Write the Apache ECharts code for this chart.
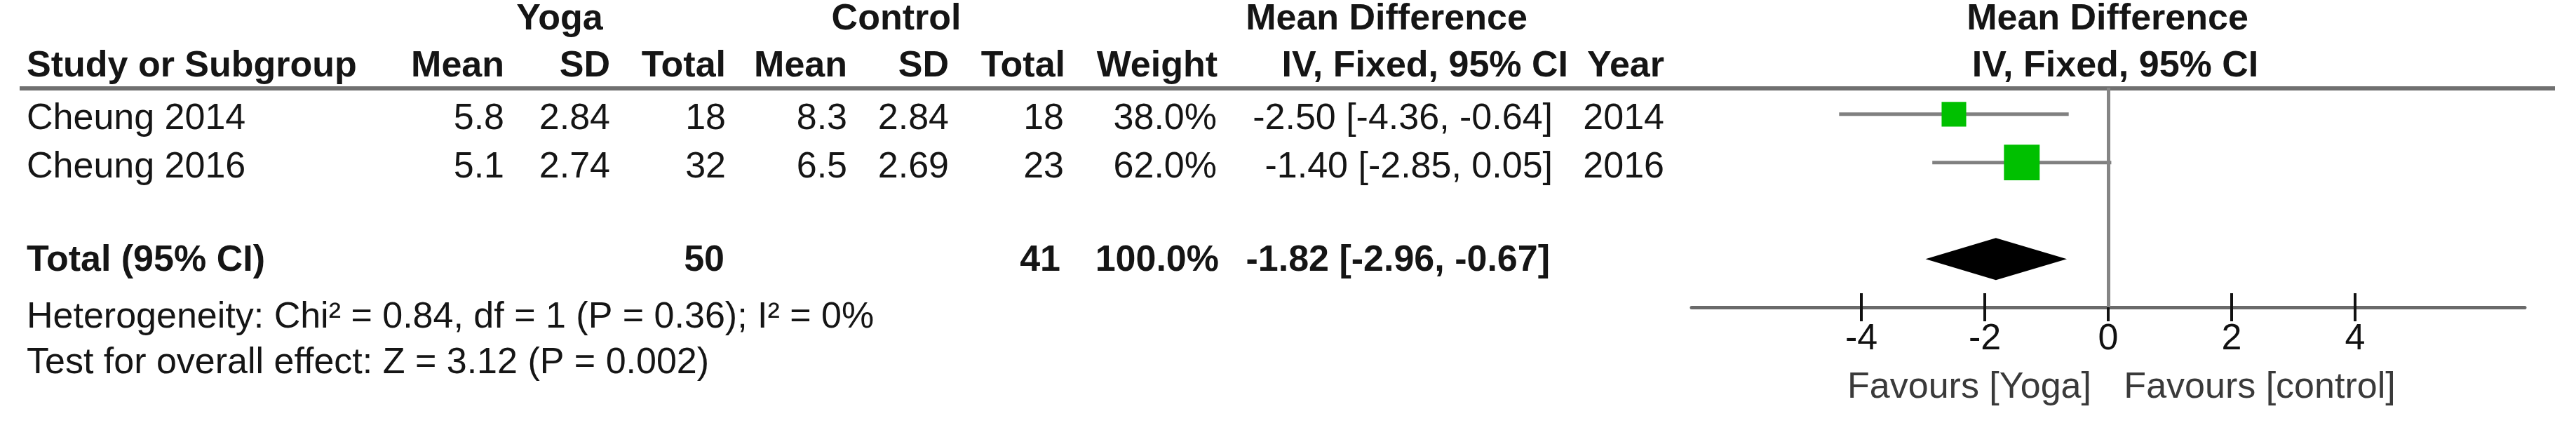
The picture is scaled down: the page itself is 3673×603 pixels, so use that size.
<!DOCTYPE html>
<html>
<head>
<meta charset="utf-8">
<title>Forest plot - Yoga vs Control</title>
<script src="https://cdn.jsdelivr.net/npm/echarts@6.0.0/dist/echarts.min.js"></script>
<style>
  html, body { margin: 0; padding: 0; background: #fff; }
  #forestChart { width: 3673px; height: 603px; }
</style>
</head>
<body>
<div id="forestChart"></div>
<script>
// study data
const studies = ['Cheung 2014', 'Cheung 2016'];
const yogaMean = [5.8, 5.1];
const yogaSD = [2.84, 2.74];
const yogaN = [18, 32];
const ctrlMean = [8.3, 6.5];
const ctrlSD = [2.84, 2.69];
const ctrlN = [18, 23];
const weights = [38.0, 62.0];
const md = [-2.50, -1.40];
const mdLow = [-4.36, -2.85];
const mdHigh = [-0.64, 0.05];
const years = [2014, 2016];

// pooled result
const totalYogaN = 50;
const totalCtrlN = 41;
const totalWeight = 100.0;
const totalMd = -1.82;
const totalLow = -2.96;
const totalHigh = -0.67;

const tickValues = [-4, -2, 0, 2, 4];
const heterogeneityText = 'Heterogeneity: Chi² = 0.84, df = 1 (P = 0.36); I² = 0%';
const overallText = 'Test for overall effect: Z = 3.12 (P = 0.002)';

const totalRow = 3;   // blank row between studies and total
const FONT = '"Liberation Sans", Arial, sans-serif';

function txt(str, x, y, align, bold, color) {
  return {
    type: 'text',
    x: x,
    y: y,
    silent: true,
    style: {
      text: str,
      fill: color || '#151515',
      fontFamily: FONT,
      fontSize: 52,
      fontWeight: bold ? 'bold' : 'normal',
      align: align,
      textAlign: align,
      verticalAlign: 'middle',
      textVerticalAlign: 'middle'
    }
  };
}

function ciText(m, lo, hi) {
  return m.toFixed(2) + ' [' + lo.toFixed(2) + ', ' + hi.toFixed(2) + ']';
}

const myChart = echarts.init(document.getElementById('forestChart'));

const option = {
  animation: false,
  backgroundColor: '#fff',
  grid: {
    left: 2412,
    width: 1188,
    top: 125,
    height: 313
  },
  xAxis: [
    {
      type: 'value',
      min: -6.75,
      max: 6.75,
      position: 'bottom',
      splitLine: { show: false },
      axisLine: { show: true, onZero: false, lineStyle: { color: '#6a6a6a', width: 5 } },
      axisTick: {
        show: true,
        customValues: tickValues,
        length: 20,
        lineStyle: { color: '#111', width: 4 }
      },
      axisLabel: {
        customValues: tickValues,
        margin: 20,
        color: '#111',
        fontFamily: FONT,
        fontSize: 52
      }
    },
    {
      // inner half of the tick marks
      type: 'value',
      min: -6.75,
      max: 6.75,
      position: 'bottom',
      splitLine: { show: false },
      axisLine: { show: false, onZero: false },
      axisTick: {
        show: true,
        inside: true,
        customValues: tickValues,
        length: 20,
        lineStyle: { color: '#111', width: 4 }
      },
      axisLabel: { show: false }
    }
  ],
  yAxis: {
    type: 'value',
    inverse: true,
    min: -0.55,
    max: 4,
    show: false
  },
  graphic: {
    elements: [
      {
        // header rule
        type: 'rect',
        silent: true,
        shape: { x: 28, y: 123, width: 3615, height: 6 },
        style: { fill: '#707070' }
      },
      txt('Yoga', 798, 28, 'center', true),
      txt('Control', 1278, 28, 'center', true),
      txt('Mean Difference', 1977, 28, 'center', true),
      txt('Mean Difference', 3005, 28, 'center', true),
      txt('Study or Subgroup', 38, 95, 'left', true),
      txt('Mean', 719, 95, 'right', true),
      txt('SD', 870, 95, 'right', true),
      txt('Total', 1035, 95, 'right', true),
      txt('Mean', 1208, 95, 'right', true),
      txt('SD', 1353, 95, 'right', true),
      txt('Total', 1519, 95, 'right', true),
      txt('Weight', 1736, 95, 'right', true),
      txt('IV, Fixed, 95% CI', 2236, 95, 'right', true),
      txt('Year', 2373, 95, 'right', true),
      txt('IV, Fixed, 95% CI', 3016, 95, 'center', true),
      txt(heterogeneityText, 38, 453, 'left', false),
      txt(overallText, 38, 518, 'left', false),
      txt('Favours [Yoga]', 2808, 553, 'center', false, '#3a3a3a'),
      txt('Favours [control]', 3222, 553, 'center', false, '#3a3a3a')
    ]
  },
  series: [
    {
      // confidence interval whiskers
      type: 'custom',
      clip: false,
      silent: true,
      encode: { x: [0, 1], y: 2 },
      data: studies.map((s, i) => [mdLow[i], mdHigh[i], i]),
      renderItem: function (params, api) {
        const p1 = api.coord([api.value(0), api.value(2)]);
        const p2 = api.coord([api.value(1), api.value(2)]);
        return {
          type: 'line',
          shape: { x1: p1[0], y1: p1[1], x2: p2[0], y2: p2[1] },
          style: { stroke: '#808080', lineWidth: 5 }
        };
      }
    },
    {
      // point estimates, size by weight
      type: 'scatter',
      silent: true,
      symbol: 'rect',
      symbolSize: function (v) {
        return 10 + v[2] * 0.66;
      },
      itemStyle: { color: '#00c000', opacity: 1 },
      data: studies.map((s, i) => [md[i], i, weights[i]]),
      markLine: {
        silent: true,
        symbol: 'none',
        label: { show: false },
        lineStyle: { color: '#858585', width: 5, type: 'solid', opacity: 1 },
        data: [{ xAxis: 0 }]
      },
      z: 3
    },
    {
      // pooled diamond
      type: 'custom',
      clip: false,
      silent: true,
      encode: { x: [0, 1, 2], y: 3 },
      data: [[totalMd, totalLow, totalHigh, totalRow]],
      renderItem: function (params, api) {
        const c = api.coord([api.value(0), api.value(3)]);
        const l = api.coord([api.value(1), api.value(3)]);
        const r = api.coord([api.value(2), api.value(3)]);
        const h = 30;
        return {
          type: 'polygon',
          shape: { points: [[l[0], c[1]], [c[0], c[1] - h], [r[0], c[1]], [c[0], c[1] + h]] },
          style: { fill: '#000' }
        };
      }
    },
    {
      // table text for each study
      type: 'custom',
      clip: false,
      silent: true,
      encode: { x: 0, y: 1 },
      data: studies.map((s, i) => [0, i]),
      renderItem: function (params, api) {
        const i = params.dataIndex;
        const y = api.coord([0, api.value(1)])[1] + 7;
        return {
          type: 'group',
          children: [
            txt(studies[i], 38, y, 'left'),
            txt(yogaMean[i].toFixed(1), 719, y, 'right'),
            txt(yogaSD[i].toFixed(2), 870, y, 'right'),
            txt(String(yogaN[i]), 1035, y, 'right'),
            txt(ctrlMean[i].toFixed(1), 1208, y, 'right'),
            txt(ctrlSD[i].toFixed(2), 1353, y, 'right'),
            txt(String(ctrlN[i]), 1517, y, 'right'),
            txt(weights[i].toFixed(1) + '%', 1735, y, 'right'),
            txt(ciText(md[i], mdLow[i], mdHigh[i]), 2214, y, 'right'),
            txt(String(years[i]), 2373, y, 'right')
          ]
        };
      }
    },
    {
      // total row text
      type: 'custom',
      clip: false,
      silent: true,
      encode: { x: 0, y: 1 },
      data: [[0, totalRow]],
      renderItem: function (params, api) {
        const y = api.coord([0, api.value(1)])[1] + 2;
        return {
          type: 'group',
          children: [
            txt('Total (95% CI)', 38, y, 'left', true),
            txt(String(totalYogaN), 1033, y, 'right', true),
            txt(String(totalCtrlN), 1512, y, 'right', true),
            txt(totalWeight.toFixed(1) + '%', 1738, y, 'right', true),
            txt(ciText(totalMd, totalLow, totalHigh), 2210, y, 'right', true)
          ]
        };
      }
    }
  ]
};

myChart.setOption(option);
window.addEventListener('resize', function () {
  myChart.resize();
});
</script>
</body>
</html>
